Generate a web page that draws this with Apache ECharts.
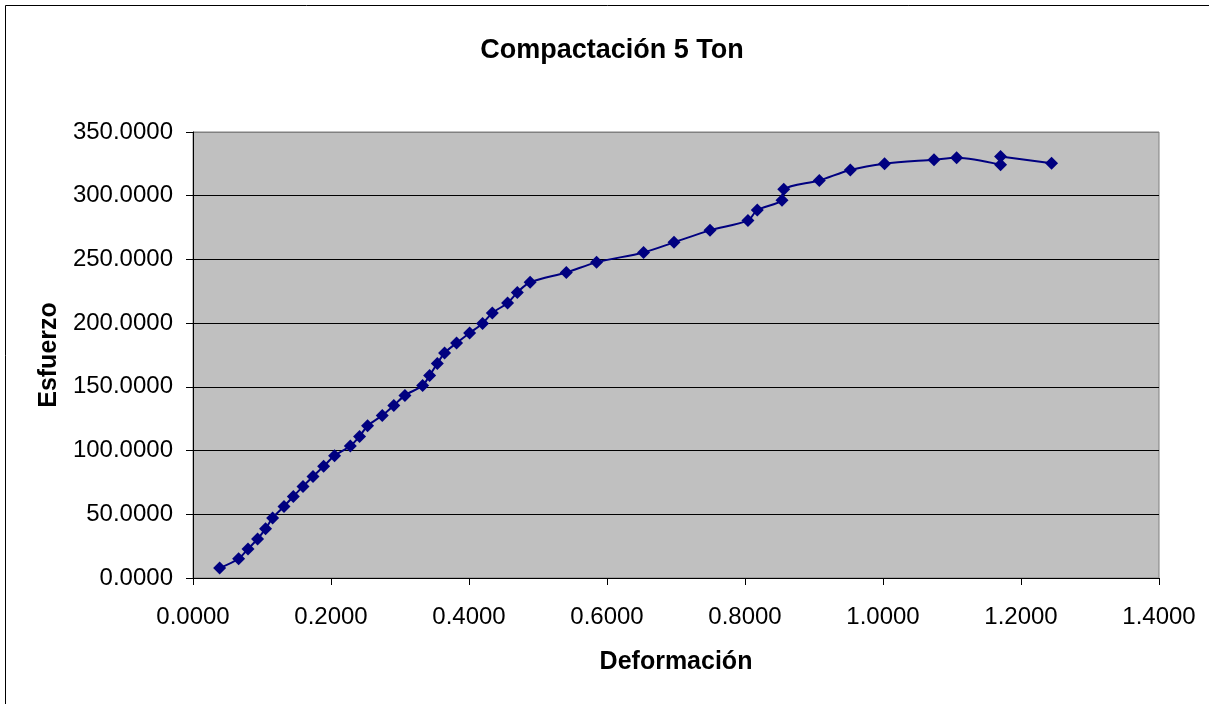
<!DOCTYPE html>
<html>
<head>
<meta charset="utf-8">
<script src="https://cdn.jsdelivr.net/npm/echarts@6/dist/echarts.min.js"></script>
<style>
    html, body { margin: 0; padding: 0; background: #fff; }
    #chart { width: 1209px; height: 704px; }
</style>
</head>
<body>
<div id="chart"></div>
<script>
    // Deformación (x) y Esfuerzo (y)
    var deformacion = [
        0.0386, 0.0661, 0.0797, 0.0936, 0.1052, 0.1154, 0.1319, 0.1454, 0.1594, 0.1739,
        0.1893, 0.2052, 0.2280, 0.2414, 0.2530, 0.2743, 0.2910, 0.3072, 0.3328, 0.3429,
        0.3541, 0.3646, 0.3820, 0.4009, 0.4197, 0.4338, 0.4559, 0.4700, 0.4886, 0.5410,
        0.5849, 0.6530, 0.6971, 0.7493, 0.8043, 0.8178, 0.8536, 0.8562, 0.9077, 0.9526,
        1.0023, 1.0739, 1.1067, 1.1704, 1.1704, 1.2443
    ];
    var esfuerzo = [
        7.8, 15.1, 22.8, 30.6, 38.7, 47.1, 56.2, 64.0, 71.9, 79.7,
        87.6, 96.0, 103.6, 111.1, 119.5, 127.6, 135.4, 143.3, 151.1, 159.0,
        168.4, 176.6, 184.4, 192.3, 199.8, 208.0, 215.8, 224.1, 232.1, 239.8,
        247.7, 255.5, 263.4, 272.8, 280.6, 288.8, 296.5, 305.0, 312.0, 320.2,
        325.1, 328.3, 329.8, 324.3, 330.8, 325.4
    ];
    var xTicks = { min: 0, max: 1.4, interval: 0.2 };
    var yTicks = { min: 0, max: 350, interval: 50 };

    var points = deformacion.map(function (d, i) { return [d, esfuerzo[i]]; });

    var myChart = echarts.init(document.getElementById('chart'));
    var font = '"Liberation Sans", Arial, sans-serif';
    var option = {
        animation: false,
        backgroundColor: '#fff',
        textStyle: { fontFamily: font },
        title: {
            text: 'Compactación 5 Ton',
            left: 607,
            textAlign: 'center',
            top: 32,
            textStyle: { fontSize: 27, fontWeight: 'bold', color: '#000', fontFamily: font }
        },
        graphic: [{
            type: 'rect',
            shape: { x: 5.5, y: 5.5, width: 1230, height: 730 },
            style: { fill: 'none', stroke: '#000', lineWidth: 1 },
            z: 100
        }],
        grid: {
            left: 193,
            right: 50,
            top: 132,
            bottom: 126,
            show: true,
            backgroundColor: '#C0C0C0',
            borderColor: '#808080',
            borderWidth: 1
        },
        xAxis: {
            type: 'value',
            min: xTicks.min,
            max: xTicks.max,
            interval: xTicks.interval,
            name: 'Deformación',
            nameLocation: 'middle',
            nameGap: 72,
            nameTextStyle: { fontSize: 25, fontWeight: 'bold', color: '#000', fontFamily: font },
            axisLine: { lineStyle: { color: '#000', width: 1 } },
            axisTick: { show: true, length: 7, lineStyle: { color: '#000' } },
            axisLabel: {
                margin: 27,
                fontSize: 24,
                color: '#000',
                fontFamily: font,
                formatter: function (v) { return v.toFixed(4); }
            },
            splitLine: { show: false }
        },
        yAxis: {
            type: 'value',
            min: yTicks.min,
            max: yTicks.max,
            interval: yTicks.interval,
            name: 'Esfuerzo',
            nameLocation: 'middle',
            nameGap: 128,
            nameRotate: 90,
            nameTextStyle: { fontSize: 25, fontWeight: 'bold', color: '#000', fontFamily: font },
            axisLine: { show: true, lineStyle: { color: '#000', width: 1 } },
            axisTick: { show: true, length: 7, lineStyle: { color: '#000' } },
            axisLabel: {
                margin: 20,
                fontSize: 24,
                color: '#000',
                fontFamily: font,
                formatter: function (v) { return v.toFixed(4); }
            },
            splitLine: {
                show: true,
                lineStyle: {
                    color: ['#000', '#000', '#000', '#000', '#000', '#000', '#000', '#808080'],
                    width: 1
                }
            }
        },
        series: [{
            name: 'Esfuerzo',
            type: 'line',
            data: points,
            smooth: 0.3,
            symbol: 'diamond',
            symbolSize: 13,
            itemStyle: { color: '#000080' },
            lineStyle: { color: '#000080', width: 2 }
        }]
    };
    myChart.setOption(option);
</script>
</body>
</html>
